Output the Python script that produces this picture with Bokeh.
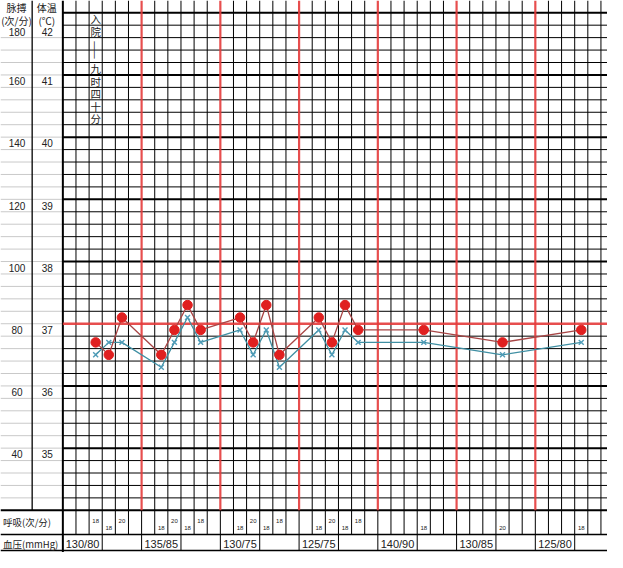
import math
from bokeh.plotting import figure
from bokeh.models import Range1d
from bokeh.embed import file_html
from bokeh.resources import INLINE
from bokeh.core.properties import value

# ---------------- data ----------------
slots = [2, 3, 4, 7, 8, 9, 10, 13, 14, 15, 16, 19, 20, 21, 22, 27, 33, 39]
pulse = [76, 72, 84, 72, 80, 88, 80, 84, 76, 88, 72, 84, 76, 88, 80, 80, 76, 80]
temp = [36.6, 36.8, 36.8, 36.4, 36.8, 37.2, 36.8, 37.0, 36.6, 37.0, 36.4,
        37.0, 36.6, 37.0, 36.8, 36.8, 36.6, 36.8]
resp = [18, 18, 20, 18, 20, 18, 18, 18, 20, 18, 18, 18, 20, 18, 18, 18, 20, 18]
bp = ["130/80", "135/85", "130/75", "125/75", "140/90", "130/85", "125/80"]
temp_ticks = [42, 41, 40, 39, 38, 37, 36, 35]
pulse_ticks = [180, 160, 140, 120, 100, 80, 60, 40]
note_chars = ["入", "院", "——", "九", "时", "四", "十", "分"]

# ---------------- layout helpers ----------------
COL = 13.47
X0 = 64.0
def xd(px):
    return (px - X0) / COL - 0.5
def td(py):
    return 37 + (339.0 - py) / 64.0

W_PX, H_PX = 623, 568
x_range = Range1d(xd(0), xd(W_PX))
y_range = Range1d(td(H_PX), td(0))
p = figure(width=607, height=552, x_range=x_range, y_range=y_range,
           output_backend="svg", toolbar_location=None, min_border=0,
           x_axis_location=None, y_axis_location=None)
p.extra_y_ranges = {"pulse": Range1d(80 + (td(H_PX) - 37) * 20, 80 + (td(0) - 37) * 20)}
p.grid.visible = False
p.outline_line_color = None
p.background_fill_color = "white"
p.border_fill_color = "white"

NCOL = 42
left = xd(0)
right = xd(W_PX)
grid_left = -0.5
y_top = td(0)
y_grid_bot = 34.1
y_resp_bot = td(549.5)
y_bot = td(566)
y_img_bot = td(H_PX)

RED = "#e43b3b"

# left column gray row lines
gx0, gy0, gx1, gy1 = [], [], [], []
for i in range(1, 39):
    t = 34.1 + 0.2 * i
    gx0.append(left); gx1.append(grid_left); gy0.append(t); gy1.append(t)
p.segment(gx0, gy0, gx1, gy1, line_color="#c9c9c9", line_width=1)

# thin vertical grid lines
vx0, vy0, vx1, vy1 = [], [], [], []
rx0, ry0, rx1, ry1 = [], [], [], []
for k in range(1, NCOL):
    x = k - 0.5
    if x > right:
        break
    if k % 6 == 0:
        rx0.append(x); ry0.append(y_top); rx1.append(x); ry1.append(y_grid_bot)
        vx0.append(x); vy0.append(y_grid_bot); vx1.append(x); vy1.append(y_resp_bot)
    else:
        vx0.append(x); vy0.append(y_top); vx1.append(x); vy1.append(y_resp_bot)
# blood pressure row separators
for k in range(3, NCOL, 3):
    x = k - 0.5
    if x > right:
        break
    vx0.append(x); vy0.append(y_resp_bot); vx1.append(x); vy1.append(y_bot)
p.segment(vx0, vy0, vx1, vy1, line_color="black", line_width=1)

# horizontal grid lines
hx0, hy0, hx1, hy1 = [], [], [], []
tx0, ty0, tx1, ty1 = [], [], [], []
for i in range(0, 41):
    t = 34.1 + 0.2 * i
    if i == 15:
        continue
    if i % 5 == 0:
        tx0.append(left if i == 0 else grid_left); ty0.append(t); tx1.append(right); ty1.append(t)
    else:
        hx0.append(grid_left); hy0.append(t); hx1.append(right); hy1.append(t)
p.segment(hx0, hy0, hx1, hy1, line_color="black", line_width=1)
p.segment(tx0, ty0, tx1, ty1, line_color="black", line_width=2)

# bottom table lines
p.segment([left, left], [y_resp_bot, y_bot], [right, right], [y_resp_bot, y_bot],
          line_color="black", line_width=1.5)
# column dividers
p.segment([grid_left], [y_top], [grid_left], [y_img_bot], line_color="black", line_width=2)
p.segment([xd(32.5)], [y_top], [xd(32.5)], [y_grid_bot], line_color="black", line_width=1.3)

# red day lines and 37 line
p.segment(rx0, ry0, rx1, ry1, line_color=RED, line_width=2.2, line_alpha=0.9)
p.segment([grid_left], [37.1], [right], [37.1], line_color=RED, line_width=2.6, line_alpha=0.9)

# ---------------- data marks ----------------
p.line(slots, temp, line_color="#3f8fa3", line_width=1.3)
p.line(slots, pulse, y_range_name="pulse", line_color="#a84545", line_width=1.3)
p.scatter(slots, temp, marker="x", size=7, line_color="#4f9cb8", line_width=1.4)
p.scatter(slots, pulse, y_range_name="pulse", marker="circle", size=9.5,
          fill_color="#e01f1f", line_color="#e01f1f")

# ---------------- texts ----------------
CJK = value("Noto Sans CJK SC")
NUM = value("Liberation Sans")
TXT = "#222222"

# headers
p.text([xd(16.5), xd(16.5), xd(47.5), xd(47.5)], [td(7.5), td(20.5), td(7.5), td(20.5)],
       text=["脉搏", "(次/分)", "体温", "(℃)"], text_font=CJK, text_font_size="10px",
       text_align="center", text_baseline="middle", text_color=TXT)

# scale labels
ly = [t if t < 42 else td(32.5) for t in temp_ticks]
p.text([xd(17)] * len(pulse_ticks), ly, text=[str(v) for v in pulse_ticks],
       text_font=NUM, text_font_size="10px", text_align="center",
       text_baseline="middle", text_color=TXT)
p.text([xd(48)] * len(temp_ticks), ly, text=[str(v) for v in temp_ticks],
       text_font=NUM, text_font_size="10px", text_align="center",
       text_baseline="middle", text_color=TXT)

# admission note (vertical)
note_y = [42.0, 41.8, 41.5, 41.2, 41.0, 40.8, 40.6, 40.4]
nx = slots[0]
for ch, y in zip(note_chars, note_y):
    ang = -math.pi / 2 if ch == "——" else 0
    p.text([nx], [y], text=[ch], angle=ang, text_font=CJK,
           text_font_size="10.5px" if ch != "——" else "11px",
           text_align="center", text_baseline="middle", text_color=TXT)

# bottom rows labels
p.text([xd(2.5), xd(2.5)], [td(537), td(559)], text=["呼吸(次/分)", "血压(mmHg)"],
       text_font=CJK, text_font_size="9.5px", text_align="left",
       text_baseline="middle", text_color=TXT)

# respiration values (staggered)
ry = [td(535.5) if s % 2 == 0 else td(542.5) for s in slots]
p.text(slots, ry, text=[str(v) for v in resp], text_font=NUM, text_font_size="6px",
       text_align="center", text_baseline="middle", text_color=TXT)

# blood pressure
bx = [d * 6 + 1 for d in range(len(bp))]
p.text(bx, [td(559)] * len(bp), text=bp, text_font=NUM, text_font_size="11px",
       text_align="center", text_baseline="middle", text_color=TXT)

open("out.html", "w").write(file_html(p, INLINE))
